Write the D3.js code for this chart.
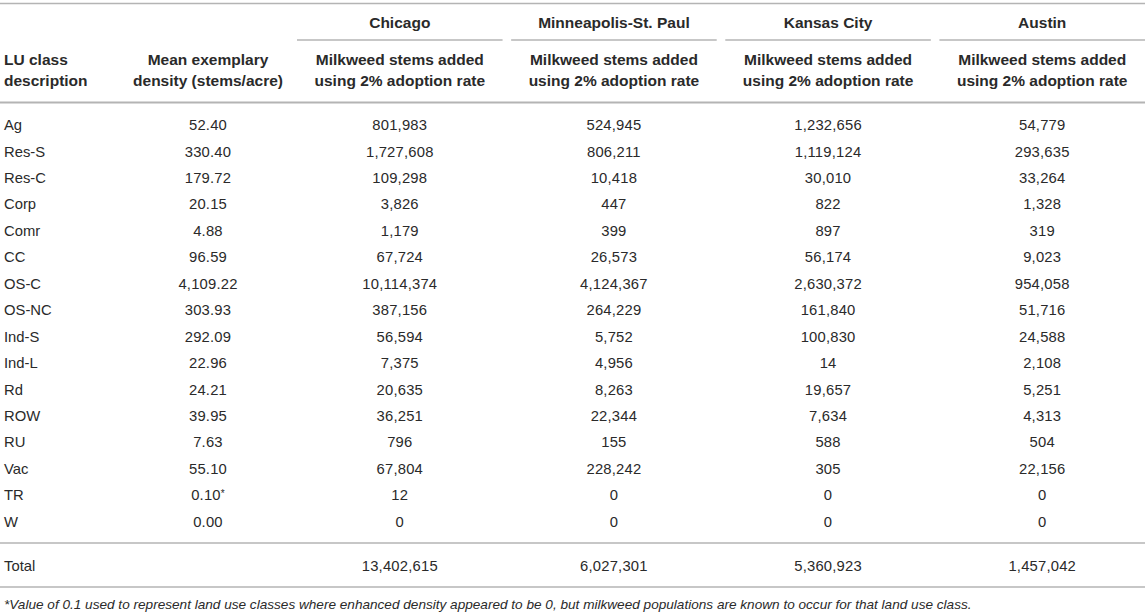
<!DOCTYPE html>
<html>
<head>
<meta charset="utf-8">
<script src="https://cdn.jsdelivr.net/npm/d3@7"></script>
<style>
  body { margin: 0; background: #fff; }
  svg text { font-family: "Liberation Sans", Arial, Helvetica, sans-serif; fill: #2a2a2a; }
  .head { font-weight: bold; font-size: 15.5px; }
  .cell { font-size: 14.8px; }
  .num { letter-spacing: 0.2px; }
  .note { font-size: 13.6px; font-style: italic; }
</style>
</head>
<body>
<svg id="table"></svg>
<script>
'use strict';

// table values
const luClasses = ['Ag', 'Res-S', 'Res-C', 'Corp', 'Comr', 'CC', 'OS-C', 'OS-NC', 'Ind-S', 'Ind-L', 'Rd', 'ROW', 'RU', 'Vac', 'TR', 'W'];
const meanDensity = [52.40, 330.40, 179.72, 20.15, 4.88, 96.59, 4109.22, 303.93, 292.09, 22.96, 24.21, 39.95, 7.63, 55.10, 0.10, 0.00];
const cities = ['Chicago', 'Minneapolis-St. Paul', 'Kansas City', 'Austin'];
const chicago = [801983, 1727608, 109298, 3826, 1179, 67724, 10114374, 387156, 56594, 7375, 20635, 36251, 796, 67804, 12, 0];
const minneapolis = [524945, 806211, 10418, 447, 399, 26573, 4124367, 264229, 5752, 4956, 8263, 22344, 155, 228242, 0, 0];
const kansasCity = [1232656, 1119124, 30010, 822, 897, 56174, 2630372, 161840, 100830, 14, 19657, 7634, 588, 305, 0, 0];
const austin = [54779, 293635, 33264, 1328, 319, 9023, 954058, 51716, 24588, 2108, 5251, 4313, 504, 22156, 0, 0];
const totals = [13402615, 6027301, 5360923, 1457042];
const starredClass = 'TR';
const footnote = '*Value of 0.1 used to represent land use classes where enhanced density appeared to be 0, but milkweed populations are known to occur for that land use class.';

const cityValues = [chicago, minneapolis, kansasCity, austin];

const width = 1145;
const height = 615;
const lineColor = '#b4b4b4';

const svg = d3.select('#table')
  .attr('width', width)
  .attr('height', height);

const xCity = d3.scaleBand()
  .domain(cities)
  .range([297, width])
  .paddingInner(0.04);

const xDensity = 208;
const xLabel = 4;

const yRow = d3.scalePoint()
  .domain(luClasses)
  .range([125, 521.5]);

const fmtInt = d3.format(',');
const fmtDens = d3.format(',.2f');

function hline(y, x1, x2, w) {
  svg.append('line')
    .attr('x1', x1).attr('x2', x2)
    .attr('y1', y).attr('y2', y)
    .attr('stroke', lineColor)
    .attr('stroke-width', w);
}

// rules
hline(3.5, 0, width, 1.5);
cities.forEach(function (c) {
  hline(40, xCity(c), xCity(c) + xCity.bandwidth(), 1.5);
});
hline(102.5, 0, width, 2);
hline(543, 0, width, 1.5);
hline(587, 0, width, 1.5);

// header
svg.selectAll('.cityname')
  .data(cities)
  .enter().append('text')
    .attr('class', 'head cityname')
    .attr('x', function (d) { return xCity(d) + xCity.bandwidth() / 2; })
    .attr('y', 23)
    .attr('dy', '0.35em')
    .attr('text-anchor', 'middle')
    .text(function (d) { return d; });

function twoLine(x, lines, anchor) {
  const t = svg.append('text')
    .attr('class', 'head')
    .attr('text-anchor', anchor);
  lines.forEach(function (l, i) {
    t.append('tspan')
      .attr('x', x)
      .attr('y', 60 + i * 21)
      .attr('dy', '0.35em')
      .text(l);
  });
}

twoLine(xLabel, ['LU class', 'description'], 'start');
twoLine(xDensity, ['Mean exemplary', 'density (stems/acre)'], 'middle');
cities.forEach(function (c) {
  twoLine(xCity(c) + xCity.bandwidth() / 2, ['Milkweed stems added', 'using 2% adoption rate'], 'middle');
});

// body rows
svg.selectAll('.lulabel')
  .data(luClasses)
  .enter().append('text')
    .attr('class', 'cell lulabel')
    .attr('x', xLabel)
    .attr('y', function (d) { return yRow(d); })
    .attr('dy', '0.35em')
    .text(function (d) { return d; });

const dens = svg.selectAll('.dens')
  .data(luClasses)
  .enter().append('text')
    .attr('class', 'cell num dens')
    .attr('x', xDensity)
    .attr('y', function (d) { return yRow(d); })
    .attr('dy', '0.35em')
    .attr('text-anchor', 'middle');

dens.append('tspan')
  .text(function (d, i) { return fmtDens(meanDensity[i]); });
dens.filter(function (d) { return d === starredClass; })
  .append('tspan')
    .attr('font-size', '10px')
    .attr('dy', '-0.3em')
    .text('*');

cities.forEach(function (c, ci) {
  const cx = xCity(c) + xCity.bandwidth() / 2;
  svg.selectAll('.v' + ci)
    .data(cityValues[ci])
    .enter().append('text')
      .attr('class', 'cell num v' + ci)
      .attr('x', cx)
      .attr('y', function (d, i) { return yRow(luClasses[i]); })
      .attr('dy', '0.35em')
      .attr('text-anchor', 'middle')
      .text(function (d) { return fmtInt(d); });
});

// total row
svg.append('text')
  .attr('class', 'cell')
  .attr('x', xLabel)
  .attr('y', 566)
  .attr('dy', '0.35em')
  .text('Total');

svg.selectAll('.total')
  .data(totals)
  .enter().append('text')
    .attr('class', 'cell num total')
    .attr('x', function (d, i) { return xCity(cities[i]) + xCity.bandwidth() / 2; })
    .attr('y', 566)
    .attr('dy', '0.35em')
    .attr('text-anchor', 'middle')
    .text(function (d) { return fmtInt(d); });

// footnote
svg.append('text')
  .attr('class', 'note')
  .attr('x', xLabel)
  .attr('y', 604)
  .attr('dy', '0.35em')
  .text(footnote);
</script>
</body>
</html>
